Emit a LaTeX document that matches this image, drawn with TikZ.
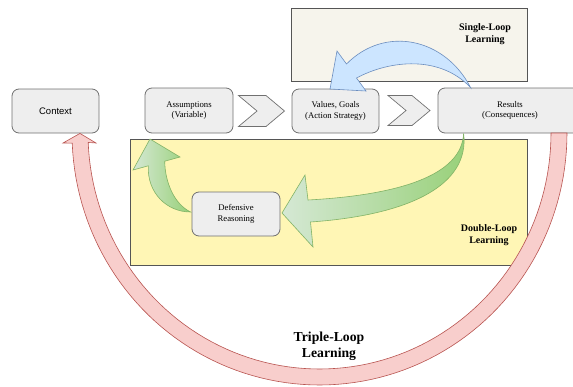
\documentclass[tikz,border=0pt]{standalone}
\usepackage{fontspec}
\setmainfont{Liberation Serif}
\newfontfamily\arialfont{Liberation Sans}
\usetikzlibrary{calc}

\definecolor{boxfill}{HTML}{EEEEEE}
\definecolor{boxline}{HTML}{707070}
\definecolor{framefill}{HTML}{F6F4EC}
\definecolor{yellowfill}{HTML}{FFF6B5}
\definecolor{frameline}{HTML}{555555}
\definecolor{bluefill}{HTML}{CCE5FF}
\definecolor{blueline}{HTML}{6C8EBF}
\definecolor{greenlight}{HTML}{D5E8D4}
\definecolor{greendark}{HTML}{97D077}
\definecolor{greenline}{HTML}{82B366}
\definecolor{redfill}{HTML}{F8CECC}
\definecolor{redline}{HTML}{B85450}

\begin{document}
\begin{tikzpicture}[x=1pt,y=-1pt,
  stage/.style={draw=boxline, fill=boxfill, rounded corners=7pt, line width=0.8pt,
    inner sep=0pt, align=center, font=\fontsize{8.7}{10.5}\selectfont},
  region/.style={draw=frameline, line width=0.8pt},
  looplabel/.style={font=\bfseries\fontsize{10}{12}\selectfont, align=center},
  chev/.style={draw=boxline, fill=boxfill, line width=0.7pt, line join=miter},
  bluearrow/.style={draw=blueline, fill=bluefill, line width=0.6pt, line join=miter},
  greenarrow/.style={draw=greenline, line width=0.6pt, line join=miter,
    left color=greenlight, right color=greendark},
  redarrow/.style={draw=redline, fill=redfill, line width=0.6pt, line join=miter}
]
\useasboundingbox (0,0) rectangle (573,386);
\clip (0,0) rectangle (573,386);

% loop regions
\draw[region, fill=framefill] (291,8) rectangle (527,81);
\draw[region, fill=yellowfill] (130,139) rectangle (527,265);

% stages
\node[stage, minimum width=87pt, minimum height=44pt, font=\arialfont\fontsize{9.5}{11}\selectfont]
  (ctx) at (55.5,111) {Context};
\node[stage, minimum width=88pt, minimum height=45pt] (asm) at (189,110.5) {Assumptions\\(Variable)};
\node[stage, minimum width=87pt, minimum height=44pt] (val) at (335.5,111) {Values, Goals\\(Action Strategy)};
\node[stage, minimum width=144pt, minimum height=45pt] (res) at (510,110.5) {Results\\(Consequences)};
\node[stage, minimum width=88pt, minimum height=44pt] (def) at (236,214) {Defensive\\Reasoning};

% flow chevrons
\draw[chev] (238.5,95.5) -- (266,95.5) -- (284.5,111) -- (266,126.5) -- (238.5,126.5) -- (257,111) -- cycle;
\draw[chev] (388,95.5) -- (412,95.5) -- (430,110.5) -- (412,125.5) -- (388,125.5) -- (406,110.5) -- cycle;

% single loop: results back to values
\coordinate (bt) at ($(res.north west)+(33,0)$);
\draw[bluearrow] (bt) .. controls (445,38) and (385,25) .. (346.5,64)
  -- (337,51) -- (330,89) -- (366,91) -- (356.5,78)
  .. controls (390,60) and (440,55) .. (bt) -- cycle;

% double loop: results to defensive reasoning, then to assumptions
\coordinate (gt) at ($(res.south west)+(26,0)$);
\draw[greenarrow] (gt) .. controls (462,175) and (400,195) .. (308,200)
  -- (305,175) -- (282,213) -- (313,247) -- (310.5,222)
  .. controls (410,215) and (470,185) .. (gt) -- cycle;
\coordinate (dt) at ($(def.west)+(-1,-2)$);
\draw[greenarrow] (dt) .. controls (167,212) and (147,193) .. (148.3,165.8)
  -- (133,170) -- (150,139) -- (180,157) -- (164.7,161.2)
  .. controls (165,182) and (174,204) .. (dt) -- cycle;

% triple loop: results back to context
\coordinate (rt) at ($(ctx.south)+(24.5,0)$);
\draw[redarrow] plot[domain=0:177.7, samples=90] ({319.5+247.5*cos(\x)},{133+252*sin(\x)})
  -- (63,143) -- (rt) -- (96,143)
  -- plot[domain=177.7:0, samples=90] ({319.5+231.5*cos(\x)},{133+236*sin(\x)}) -- cycle;

% loop labels
\node[looplabel] (single) at (485,34) {Single-Loop\\Learning};
\node[looplabel] (double) at (489,235.5) {Double-Loop\\Learning};
\node[looplabel, font=\bfseries\fontsize{13.7}{15.7}\selectfont] (triple) at (329,346) {Triple-Loop\\Learning};
\end{tikzpicture}
\end{document}
